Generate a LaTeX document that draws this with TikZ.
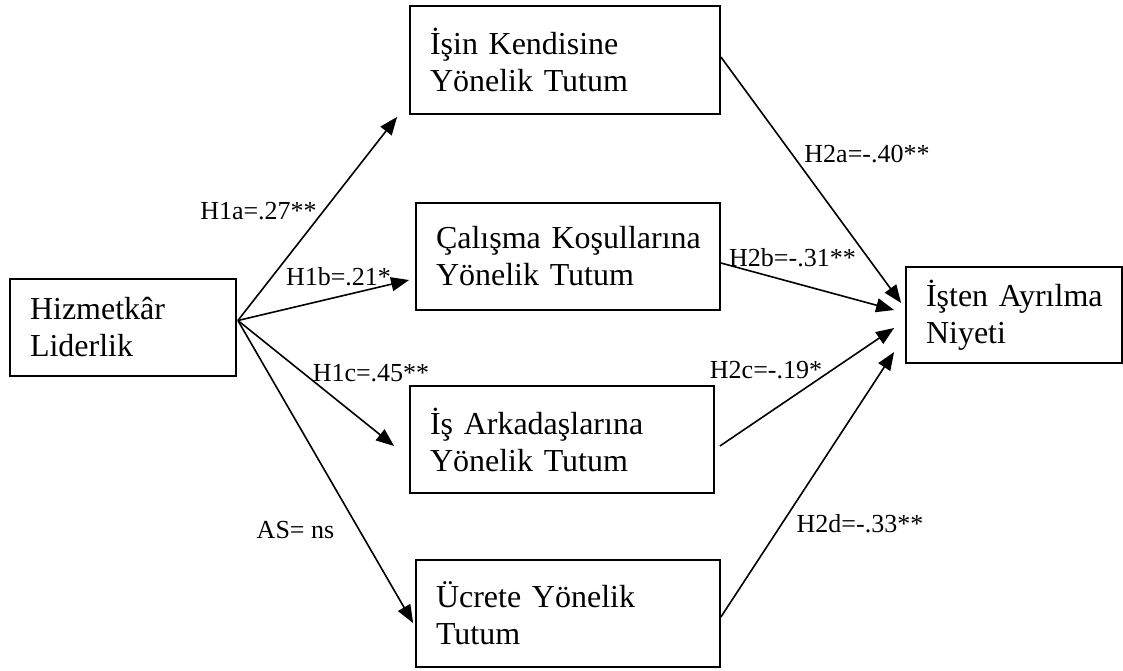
\documentclass[tikz,border=0pt]{standalone}
\usepackage{fontspec}
\setmainfont{Liberation Serif}
\usetikzlibrary{arrows.meta}

\begin{document}
\begin{tikzpicture}[x=0.5pt,y=-0.5pt,
    kutu/.style={draw,line width=0.9pt,inner xsep=10pt,align=left,
        font=\fontsize{16}{18.5}\selectfont},
    etiket/.style={anchor=base,inner sep=0pt,font=\fontsize{13}{15}\selectfont},
    ok/.style={-{Triangle[length=9pt,width=7pt]},line width=0.8pt}]
    \useasboundingbox (0,0) rectangle (1123,670);
    % kutular
    \node[kutu,text width=93pt,minimum height=48.5pt]  (HL) at (123,327.5)  {Hizmetkâr\\Liderlik};
    \node[kutu,text width=135pt,minimum height=54pt]   (IK) at (565,60)     {İşin~Kendisine\\Yönelik~Tutum};
    \node[kutu,text width=132pt,minimum height=53.5pt] (CK) at (568,256.5)  {Çalışma~Koşullarına\\Yönelik~Tutum};
    \node[kutu,text width=132pt,minimum height=53.5pt] (IA) at (562,439.5)  {İş~Arkadaşlarına\\Yönelik~Tutum};
    \node[kutu,text width=132pt,minimum height=53.5pt] (UC) at (568,613.5)  {Ücrete~Yönelik\\Tutum};
    \node[kutu,text width=88pt,minimum height=48pt]    (AN) at (1014,315)   {İşten~Ayrılma\\Niyeti};
    % H1 yollari
    \draw[ok] ([shift={(1,-7)}]HL.east) -- ([shift={(-12,2)}]IK.south west);
    \draw[ok] ([shift={(1,-7)}]HL.east) -- ([shift={(-6,23.5)}]CK.west);
    \draw[ok] ([shift={(1,-7)}]HL.east) -- ([shift={(-15,6.5)}]IA.west);
    \draw[ok] ([shift={(1,-7)}]HL.east) -- ([shift={(-2,9.5)}]UC.west);
    % H2 yollari
    \draw[ok] ([shift={(0,-3)}]IK.east)  -- ([shift={(-4,-12)}]AN.west);
    \draw[ok] ([shift={(0,6.5)}]CK.east) -- ([shift={(-11,-5)}]AN.west);
    \draw[ok] ([shift={(5,6.5)}]IA.east) -- ([shift={(-11,13)}]AN.west);
    \draw[ok] ([shift={(0,3.5)}]UC.east) -- ([shift={(-11,37)}]AN.west);
    % katsayilar
    \node[etiket] (h1a) at (258.5,219) {H1a=.27**};
    \node[etiket] (h1b) at (338.5,285) {H1b=.21*};
    \node[etiket] (h1c) at (371,381)   {H1c=.45**};
    \node[etiket] (as)  at (295.5,538) {AS= ns};
    \node[etiket] (h2a) at (867,162)   {H2a=-.40**};
    \node[etiket] (h2b) at (792.5,266) {H2b=-.31**};
    \node[etiket] (h2c) at (766,378)   {H2c=-.19*};
    \node[etiket] (h2d) at (860,532)   {H2d=-.33**};
\end{tikzpicture}
\end{document}
